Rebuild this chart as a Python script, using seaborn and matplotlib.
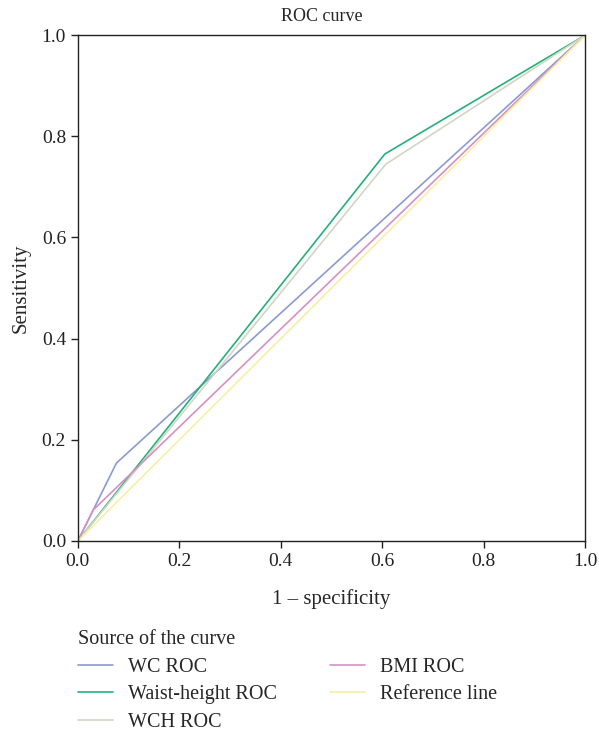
import numpy as np
import pandas as pd
import seaborn as sns
import matplotlib.pyplot as plt

# ROC points (1 - specificity, sensitivity)
wc_x = [0.0, 0.076, 1.0]
wc_y = [0.0, 0.154, 1.0]
wh_x = [0.0, 0.605, 1.0]
wh_y = [0.0, 0.765, 1.0]
wch_x = [0.0, 0.607, 1.0]
wch_y = [0.0, 0.745, 1.0]
bmi_x = [0.0, 0.030, 1.0]
bmi_y = [0.0, 0.061, 1.0]
ref_x = [0.0, 1.0]
ref_y = [0.0, 1.0]

names = ["WC ROC", "Waist-height ROC", "WCH ROC", "BMI ROC", "Reference line"]
colors = ["#8d9ad0", "#23b07a", "#d3d5c4", "#d590c4", "#f6f0a4"]

frames = []
for name, xs, ys in zip(names, [wc_x, wh_x, wch_x, bmi_x, ref_x],
                        [wc_y, wh_y, wch_y, bmi_y, ref_y]):
    frames.append(pd.DataFrame({"fpr": xs, "tpr": ys, "curve": name}))
df = pd.concat(frames, ignore_index=True)

sns.set_style("ticks")
plt.rcParams["font.family"] = ["Liberation Serif", "DejaVu Serif"]

fig = plt.figure(figsize=(5.99, 7.33), dpi=100)
ax = fig.add_axes([0.130, 0.262, 0.847, 0.690])

sns.lineplot(data=df, x="fpr", y="tpr", hue="curve", hue_order=names,
             palette=colors, sort=False, estimator=None, linewidth=1.2,
             ax=ax, legend=True)

ticks = np.arange(0, 1.01, 0.2)
ax.set_xlim(0, 1)
ax.set_ylim(0, 1)
ax.set_xticks(ticks)
ax.set_yticks(ticks)
ax.set_xticklabels([f"{v:.1f}" for v in ticks])
ax.set_yticklabels([f"{v:.1f}" for v in ticks])
ax.tick_params(labelsize=14, length=5, width=1, colors="#222222")
for s in ax.spines.values():
    s.set_linewidth(1.0)
    s.set_color("#222222")
ax.set_xlabel("1 \u2013 specificity", fontsize=15, labelpad=14)
ax.set_ylabel("Sensitivity", fontsize=15, labelpad=8)
ax.set_title("ROC curve", fontsize=13, pad=10, x=0.48)

handles, labels = ax.get_legend_handles_labels()
ax.get_legend().remove()
fig.legend(handles, labels, loc="upper left", bbox_to_anchor=(0.130, 0.140),
           ncol=2, frameon=False, fontsize=14.5, title="Source of the curve",
           title_fontsize=14.5, handlelength=1.75, handletextpad=0.75,
           columnspacing=2.6, labelspacing=0.42, borderpad=0,
           borderaxespad=0, alignment="left")

fig.savefig("out.png", dpi=100)
